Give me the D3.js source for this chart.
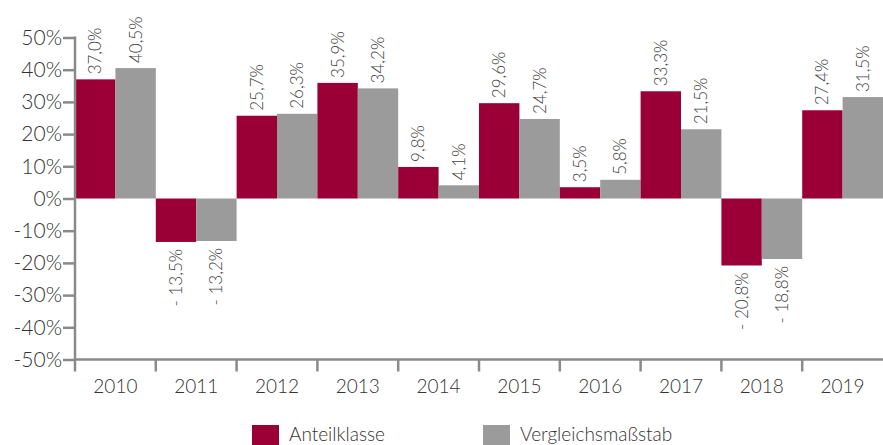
<!DOCTYPE html>
<html>
<head>
<meta charset="utf-8">
<script src="https://cdn.jsdelivr.net/npm/d3@7"></script>
<style>
  body { margin: 0; background: #fff; }
  text { font-family: Lato, "Open Sans", sans-serif; font-weight: 300; fill: #333; }
</style>
</head>
<body>
<svg id="chart" width="883" height="445"></svg>
<script>
// data
let years = ['2010', '2011', '2012', '2013', '2014', '2015', '2016', '2017', '2018', '2019']
let anteilklasse = [37.0, -13.5, 25.7, 35.9, 9.8, 29.6, 3.5, 33.3, -20.8, 27.4]
let vergleich = [40.5, -13.2, 26.3, 34.2, 4.1, 24.7, 5.8, 21.5, -18.8, 31.5]
let seriesNames = ['Anteilklasse', 'Vergleichsmaßstab']
let yTicks = [50, 40, 30, 20, 10, 0, -10, -20, -30, -40, -50]

let colors = ['#9a0036', '#9b9b9b']

let svg = d3.select('#chart')

let mLeft = 75, mRight = 883, mTop = 37.5, mBottom = 359.5

let x = d3.scaleBand().domain(years).range([mLeft, mRight]).padding(0)
let xInner = d3.scaleBand().domain(seriesNames).range([0, x.bandwidth()]).padding(0)
let y = d3.scaleLinear().domain([-50, 50]).range([mBottom, mTop])

let fmt = (v) => {
    let s = Math.abs(v).toFixed(1).replace('.', ',') + '%'
    return v < 0 ? '- ' + s : s
}

let rows = []
years.forEach((yr, i) => {
    rows.push({ year: yr, series: seriesNames[0], value: anteilklasse[i], color: colors[0] })
    rows.push({ year: yr, series: seriesNames[1], value: vergleich[i], color: colors[1] })
})

// bars
svg.selectAll('rect.bar')
    .data(rows)
    .enter()
    .append('rect')
    .attr('class', 'bar')
    .attr('x', (d) => x(d.year) + xInner(d.series))
    .attr('width', xInner.bandwidth())
    .attr('y', (d) => y(Math.max(0, d.value)))
    .attr('height', (d) => Math.abs(y(d.value) - y(0)))
    .attr('fill', (d) => d.color)

// value labels
svg.selectAll('text.val')
    .data(rows)
    .enter()
    .append('text')
    .attr('class', 'val')
    .attr('transform', (d) => {
        let cx = x(d.year) + xInner(d.series) + xInner.bandwidth() / 2
        let cy = d.value >= 0 ? y(d.value) - 5 : y(d.value) + 7
        return 'translate(' + (cx + 6) + ',' + cy + ') rotate(-90)'
    })
    .attr('text-anchor', (d) => d.value >= 0 ? 'start' : 'end')
    .style('font-size', '17px')
    .style('fill', '#444')
    .text((d) => fmt(d.value))

// y axis
let yAxis = d3.axisLeft(y)
    .tickValues(yTicks)
    .tickSize(12)
    .tickPadding(1)
    .tickFormat((d) => d + '%')

let gy = svg.append('g')
    .attr('transform', 'translate(' + mLeft + ',0)')
    .call(yAxis)
gy.select('.domain').remove()
gy.selectAll('.tick line').attr('stroke', '#8a8a8a').attr('stroke-width', 2.5)
gy.selectAll('.tick text').style('font-size', '21px').style('fill', '#333')
gy.append('line')
    .attr('x1', 0).attr('x2', 0)
    .attr('y1', mTop - 1).attr('y2', mBottom + 12)
    .attr('stroke', '#8a8a8a').attr('stroke-width', 2.5)

// x axis
let gx = svg.append('g')
    .attr('transform', 'translate(0,' + mBottom + ')')
gx.append('line')
    .attr('x1', mLeft).attr('x2', mRight)
    .attr('stroke', '#8a8a8a').attr('stroke-width', 2.5)
gx.selectAll('line.sep')
    .data(years.slice(1))
    .enter()
    .append('line')
    .attr('class', 'sep')
    .attr('x1', (d) => x(d)).attr('x2', (d) => x(d))
    .attr('y1', 0).attr('y2', 12)
    .attr('stroke', '#8a8a8a').attr('stroke-width', 2.5)
gx.selectAll('text.year')
    .data(years)
    .enter()
    .append('text')
    .attr('class', 'year')
    .attr('x', (d) => x(d) + x.bandwidth() / 2)
    .attr('y', 33)
    .attr('text-anchor', 'middle')
    .style('font-size', '19px')
    .text((d) => d)

// legend
let legendX = [252, 483]
let legend = svg.selectAll('g.legend')
    .data(seriesNames)
    .enter()
    .append('g')
    .attr('class', 'legend')
    .attr('transform', (d, i) => 'translate(' + legendX[i] + ',425)')
legend.append('rect')
    .attr('width', 27).attr('height', 27)
    .attr('fill', (d, i) => colors[i])
legend.append('text')
    .attr('x', 37)
    .attr('y', 15.5)
    .style('font-size', '19px')
    .text((d) => d)
</script>
</body>
</html>
